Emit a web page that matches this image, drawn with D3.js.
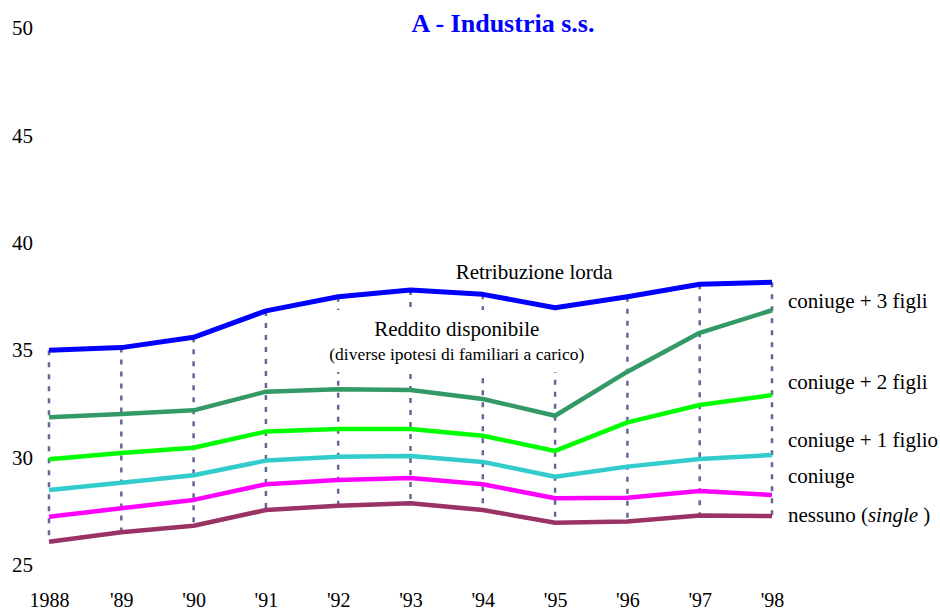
<!DOCTYPE html>
<html>
<head>
<meta charset="utf-8">
<script src="https://cdn.jsdelivr.net/npm/d3@7/dist/d3.min.js"></script>
<style>
    body { margin: 0; background: #fff; }
    svg { display: block; font-family: "Liberation Serif", "Times New Roman", serif; }
</style>
</head>
<body>
<svg id="chart"></svg>
<script>
// chart data
const years = [1988, 1989, 1990, 1991, 1992, 1993, 1994, 1995, 1996, 1997, 1998];
const yearLabels = ["1988", "'89", "'90", "'91", "'92", "'93", "'94", "'95", "'96", "'97", "'98"];
const yTicks = [25, 30, 35, 40, 45, 50];

const retribuzioneLorda = [35.0, 35.12, 35.6, 36.83, 37.49, 37.8, 37.6, 36.98, 37.49, 38.07, 38.16];
const coniugeTreFigli = [31.88, 32.03, 32.2, 33.07, 33.18, 33.15, 32.73, 31.95, 34.0, 35.81, 36.86];
const coniugeDueFigli = [29.92, 30.21, 30.46, 31.21, 31.33, 31.33, 31.02, 30.31, 31.64, 32.45, 32.91];
const coniugeUnFiglio = [28.49, 28.83, 29.18, 29.86, 30.04, 30.07, 29.8, 29.11, 29.58, 29.93, 30.12];
const soloConiuge = [27.25, 27.64, 28.03, 28.76, 28.96, 29.05, 28.76, 28.11, 28.13, 28.45, 28.26];
const nessuno = [26.08, 26.52, 26.83, 27.56, 27.76, 27.87, 27.56, 26.97, 27.02, 27.3, 27.28];

const seriesNames = ["Retribuzione lorda", "coniuge + 3 figli", "coniuge + 2 figli", "coniuge + 1 figlio", "coniuge", "nessuno"];

function drawChart() {
    const width = 940;
    const height = 610;

    const series = [
        { name: seriesNames[0], values: retribuzioneLorda, color: "#0000ff", width: 5 },
        { name: seriesNames[1], values: coniugeTreFigli, color: "#339966", width: 4.5, labelAt: 36.96 },
        { name: seriesNames[2], values: coniugeDueFigli, color: "#00ff00", width: 4.5, labelAt: 33.19 },
        { name: seriesNames[3], values: coniugeUnFiglio, color: "#33cccc", width: 4.5, labelAt: 30.49 },
        { name: seriesNames[4], values: soloConiuge, color: "#ff00ff", width: 4.5, labelAt: 28.82 },
        { name: seriesNames[5], values: nessuno, color: "#993366", width: 4.5, labelAt: 27.0 }
    ];

    const svg = d3.select('#chart')
        .attr('width', width)
        .attr('height', height)
        .attr('viewBox', [0, 0, width, height]);

    const xScale = d3.scaleLinear()
        .domain([years[0], years[years.length - 1]])
        .range([49, 772]);

    const yScale = d3.scaleLinear()
        .domain([25, 50])
        .range([565, 28]);

    //y axis, labels only
    const yAxisG = svg.append('g')
        .attr('transform', 'translate(33, 0)')
        .call(d3.axisLeft(yScale).tickValues(yTicks).tickSize(0).tickPadding(0));
    yAxisG.select('.domain').remove();
    yAxisG.selectAll('text')
        .attr('font-family', '"Liberation Serif", serif')
        .attr('font-size', 21)
        .attr('fill', '#000');

    //x axis, labels only
    const xAxisG = svg.append('g')
        .attr('transform', 'translate(0, 590)')
        .call(d3.axisBottom(xScale)
            .tickValues(years)
            .tickFormat((d, i) => yearLabels[i])
            .tickSize(0)
            .tickPadding(3));
    xAxisG.select('.domain').remove();
    xAxisG.selectAll('text')
        .attr('font-family', '"Liberation Serif", serif')
        .attr('font-size', 20)
        .attr('fill', '#000');

    //title
    svg.append('text')
        .attr('x', 503)
        .attr('y', 32)
        .attr('text-anchor', 'middle')
        .attr('font-size', 26)
        .attr('font-weight', 'bold')
        .attr('fill', '#0000ff')
        .text('A - Industria s.s.');

    //dashed drop lines from the gross pay down to the lowest series
    svg.append('g')
        .selectAll('line')
        .data(years)
        .enter()
        .append('line')
        .attr('x1', d => xScale(d))
        .attr('x2', d => xScale(d))
        .attr('y1', (d, i) => yScale(retribuzioneLorda[i]))
        .attr('y2', (d, i) => yScale(nessuno[i]))
        .attr('stroke', '#666699')
        .attr('stroke-width', 2.5)
        .attr('stroke-dasharray', '5,7');

    //annotation in the middle, with a white box that hides the drop lines
    const note = svg.append('g');
    const noteBox = note.append('rect').attr('fill', '#fff');
    const noteText = note.append('g');
    noteText.append('text')
        .attr('x', xScale(1993.64))
        .attr('y', yScale(35.66))
        .attr('text-anchor', 'middle')
        .attr('font-size', 21)
        .text('Reddito disponibile');
    noteText.append('text')
        .attr('x', xScale(1993.64))
        .attr('y', yScale(34.54))
        .attr('text-anchor', 'middle')
        .attr('font-size', 17.5)
        .text('(diverse ipotesi di familiari a carico)');
    const bb = noteText.node().getBBox();
    noteBox
        .attr('x', bb.x - 4)
        .attr('y', bb.y - 7)
        .attr('width', bb.width + 8)
        .attr('height', bb.height + 15);

    //lines
    const line = d3.line()
        .x((d, i) => xScale(years[i]))
        .y(d => yScale(d));

    svg.append('g')
        .selectAll('path')
        .data(series)
        .enter()
        .append('path')
        .attr('fill', 'none')
        .attr('stroke', d => d.color)
        .attr('stroke-width', d => d.width)
        .attr('stroke-linejoin', 'round')
        .attr('d', d => line(d.values));

    svg.append('text')
        .attr('x', xScale(1994.71))
        .attr('y', yScale(38.31))
        .attr('text-anchor', 'middle')
        .attr('font-size', 21)
        .text(seriesNames[0]);

    //right hand labels
    const labels = svg.append('g')
        .selectAll('text')
        .data(series.slice(1))
        .enter()
        .append('text')
        .attr('x', 788)
        .attr('y', d => yScale(d.labelAt))
        .attr('font-size', 21)
        .attr('fill', '#000');

    labels.each(function (d) {
        const t = d3.select(this);
        if (d.name === "nessuno") {
            t.append('tspan').text('nessuno (');
            t.append('tspan').attr('font-style', 'italic').text('single');
            t.append('tspan').text(' )');
        } else {
            t.text(d.name);
        }
    });
}

drawChart();
</script>
</body>
</html>
